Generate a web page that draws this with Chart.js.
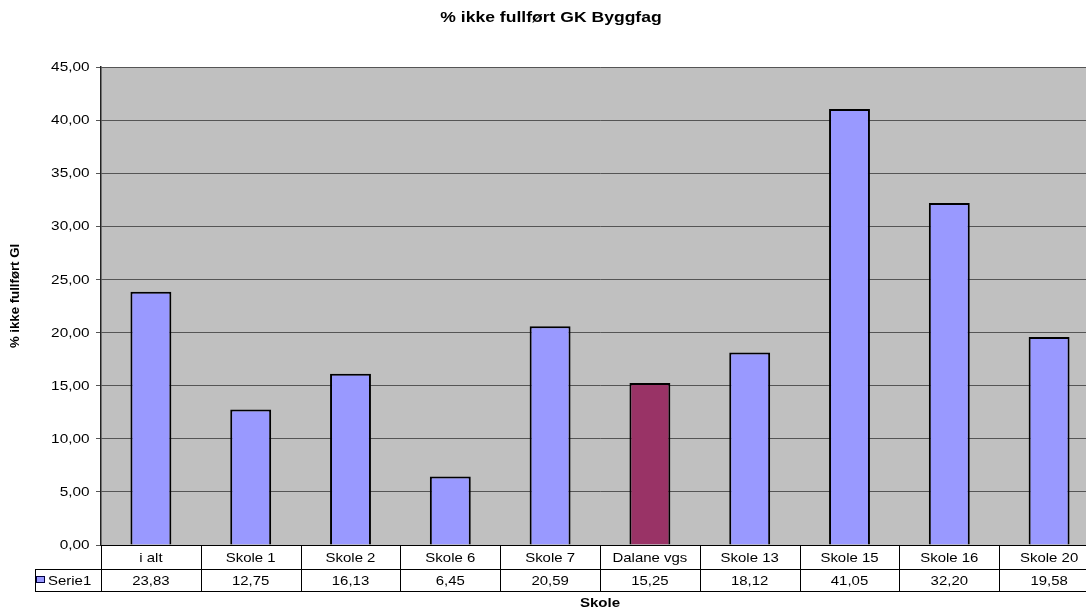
<!DOCTYPE html>
<html>
<head>
<meta charset="utf-8">
<script src="https://cdn.jsdelivr.net/npm/chart.js@4.4.0/dist/chart.umd.min.js"></script>
<style>
  html, body { margin: 0; padding: 0; background: #fff; overflow: hidden; }
  #wrap { width: 1100px; height: 610px; position: relative; }
</style>
</head>
<body>
<div id="wrap"><canvas id="myChart"></canvas></div>
<script>
// skoler og andel ikke fullført
var skoler = ['i alt', 'Skole 1', 'Skole 2', 'Skole 6', 'Skole 7', 'Dalane vgs', 'Skole 13', 'Skole 15', 'Skole 16', 'Skole 20'];
var serie1 = [23.83, 12.75, 16.13, 6.45, 20.59, 15.25, 18.12, 41.05, 32.20, 19.58];
var yTicks = [0, 5, 10, 15, 20, 25, 30, 35, 40, 45];

var FONT = '"Liberation Sans", Arial, sans-serif';

function komma(v) {
    return v.toFixed(2).replace('.', ',');
}

// tekst litt bredere, som i Excel
function tekst(ctx, s, x, y, align, font, sx, rot) {
    ctx.save();
    ctx.translate(x, y);
    if (rot) ctx.rotate(rot);
    ctx.scale(sx, 1);
    ctx.font = font;
    ctx.fillStyle = '#000';
    ctx.textAlign = align;
    ctx.textBaseline = 'middle';
    ctx.fillText(s, 0, 0);
    ctx.restore();
}

var farger = skoler.map(function(s) {
    return s === 'Dalane vgs' ? '#993366' : '#9999FF';
});

// grå bakgrunn i plottet
var bakgrunn = {
    id: 'bakgrunn',
    beforeDraw: function(chart) {
        var a = chart.chartArea, ctx = chart.ctx;
        ctx.save();
        ctx.fillStyle = '#C0C0C0';
        ctx.fillRect(a.left, a.top, a.right - a.left, a.bottom - a.top);
        ctx.restore();
    }
};

// tittel, akseetiketter og datatabell
var tabell = {
    id: 'tabell',
    afterDraw: function(chart) {
        var ctx = chart.ctx, a = chart.chartArea, x = chart.scales.x, y = chart.scales.y;
        var y0 = a.bottom, y1 = y0 + 24, y2 = y1 + 22;
        var leftCell = 35;
        var bredde = x.getPixelForValue(1) - x.getPixelForValue(0);

        tekst(ctx, '% ikke fullført GK Byggfag', 551, 18, 'center', 'bold 15px ' + FONT, 1.17);
        tekst(ctx, '% ikke fullført GI', 16, 296, 'center', 'bold 12px ' + FONT, 1.1, -Math.PI / 2);

        yTicks.forEach(function(v) {
            tekst(ctx, komma(v), 89.5, y.getPixelForValue(v) + 0.5, 'right', '13px ' + FONT, 1.18);
        });

        ctx.save();
        ctx.strokeStyle = '#000';
        ctx.lineWidth = 1;
        ctx.beginPath();
        ctx.moveTo(a.left, y0 + 0.5); ctx.lineTo(a.right, y0 + 0.5);
        ctx.moveTo(leftCell, y1 + 0.5); ctx.lineTo(a.right, y1 + 0.5);
        ctx.moveTo(leftCell, y2 + 0.5); ctx.lineTo(a.right, y2 + 0.5);
        ctx.moveTo(leftCell + 0.5, y1); ctx.lineTo(leftCell + 0.5, y2);
        for (var i = 0; i <= skoler.length; i++) {
            var bx = i < skoler.length ? x.getPixelForValue(i) - bredde / 2 : a.right;
            bx = Math.round(bx) + 0.5;
            ctx.moveTo(bx, y0); ctx.lineTo(bx, y2);
        }
        ctx.stroke();
        ctx.restore();

        skoler.forEach(function(s, i) {
            var cx = x.getPixelForValue(i);
            tekst(ctx, s, cx, (y0 + y1) / 2 + 1, 'center', '13px ' + FONT, 1.15);
            tekst(ctx, komma(serie1[i]), cx, (y1 + y2) / 2 + 1, 'center', '13px ' + FONT, 1.15);
        });

        // forklaring
        ctx.save();
        ctx.fillStyle = '#9999FF';
        ctx.fillRect(36, y1 + 7, 9, 7);
        ctx.strokeStyle = '#000040';
        ctx.lineWidth = 1;
        ctx.strokeRect(36.5, y1 + 7.5, 8, 6);
        ctx.restore();
        tekst(ctx, 'Serie1', 48, (y1 + y2) / 2 + 1, 'left', '13px ' + FONT, 1.15);

        tekst(ctx, 'Skole', (a.left + a.right) / 2, y2 + 12, 'center', 'bold 13px ' + FONT, 1.16);
    }
};

new Chart(document.getElementById('myChart'), {
    type: 'bar',
    data: {
        labels: skoler,
        datasets: [{
            label: 'Serie1',
            data: serie1,
            backgroundColor: farger,
            borderColor: '#000',
            borderWidth: 2,
            barPercentage: 0.41,
            categoryPercentage: 1.0
        }]
    },
    options: {
        responsive: true,
        maintainAspectRatio: false,
        animation: false,
        layout: { padding: { left: 0, right: 1, top: 67, bottom: 65 } },
        plugins: {
            legend: { display: false },
            tooltip: { enabled: false },
            title: { display: false }
        },
        scales: {
            x: { display: false },
            y: {
                min: 0,
                max: 45,
                afterBuildTicks: function(s) { s.ticks = yTicks.map(function(v) { return { value: v }; }); },
                afterFit: function(s) { s.width = 101; },
                ticks: { display: false },
                grid: { color: '#555', tickLength: 5, drawTicks: true },
                border: { color: '#222', width: 1.5 }
            }
        }
    },
    plugins: [bakgrunn, tabell]
});
</script>
</body>
</html>
